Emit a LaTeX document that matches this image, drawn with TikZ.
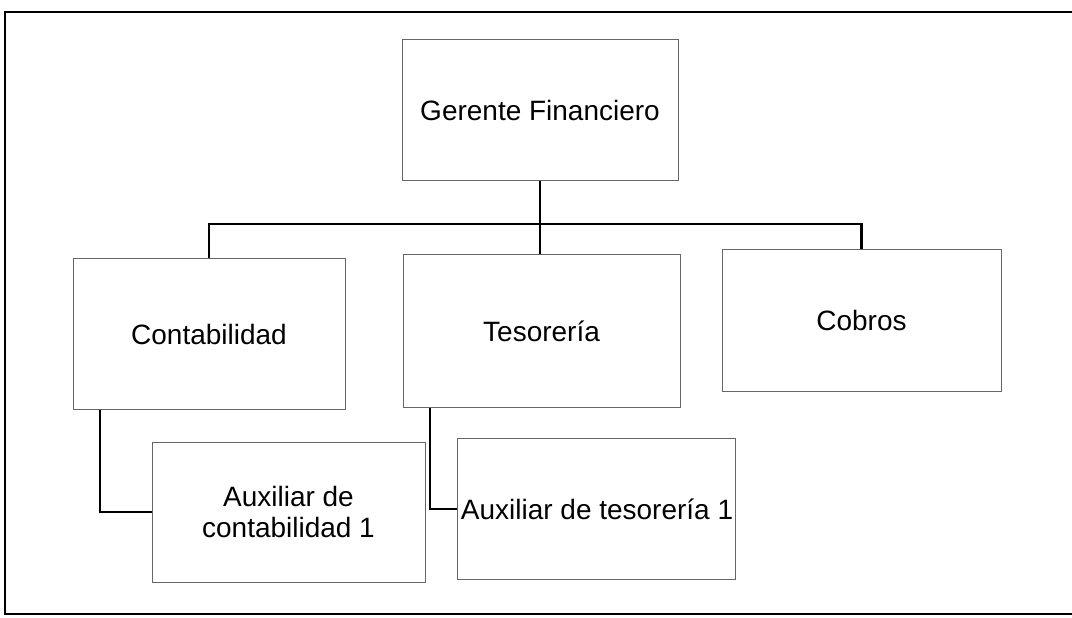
\documentclass[tikz,border=0pt]{standalone}
\usepackage{fontspec}
\setmainfont{Liberation Sans}
\tikzset{
    box/.style={draw=white!40!black,line width=0.6pt,inner sep=0pt,
        font=\fontsize{19.9}{21.5}\selectfont},
    conn/.style={line width=2.1pt,black},
}
\begin{document}
\begin{tikzpicture}[x=0.025cm,y=-0.025cm]
                \useasboundingbox (0,0) rectangle (1072,618);
                \draw[line width=1.6pt] (1072,12) -- (5,12) -- (5,614) -- (1072,614);
                \node[box,minimum width=276*0.025cm,minimum height=141*0.025cm] (ger) at (540,110) {Gerente Financiero};
                \node[box,minimum width=272*0.025cm,minimum height=151*0.025cm] (cont) at (209,334) {Contabilidad};
                \node[box,minimum width=277*0.025cm,minimum height=153*0.025cm] (tes) at (541.5,331) {Tesorería};
                \node[box,minimum width=279*0.025cm,minimum height=142*0.025cm] (cob) at (861.5,320) {Cobros};
                \node[box,minimum width=273*0.025cm,minimum height=140*0.025cm,align=center] (auxc) at (288.5,512) {Auxiliar de\\contabilidad 1};
                \node[box,inner xsep=4*0.025cm,minimum height=141*0.025cm] (auxt) at (596,509) {\makebox[6.75cm][l]{Auxiliar de tesorería 1}};
                \coordinate (bus) at (540,224);
                \draw[conn] (ger.south) -- (bus);
                \draw[conn] (cont.north) |- (bus) -| (cob.north);
                \draw[conn] (bus) -- (bus |- tes.north);
                \draw[conn] (tes.south -| 430,0) |- (auxt.west);
                \draw[conn] (cont.south -| 100,0) |- (auxc.west);
\end{tikzpicture}
\end{document}
